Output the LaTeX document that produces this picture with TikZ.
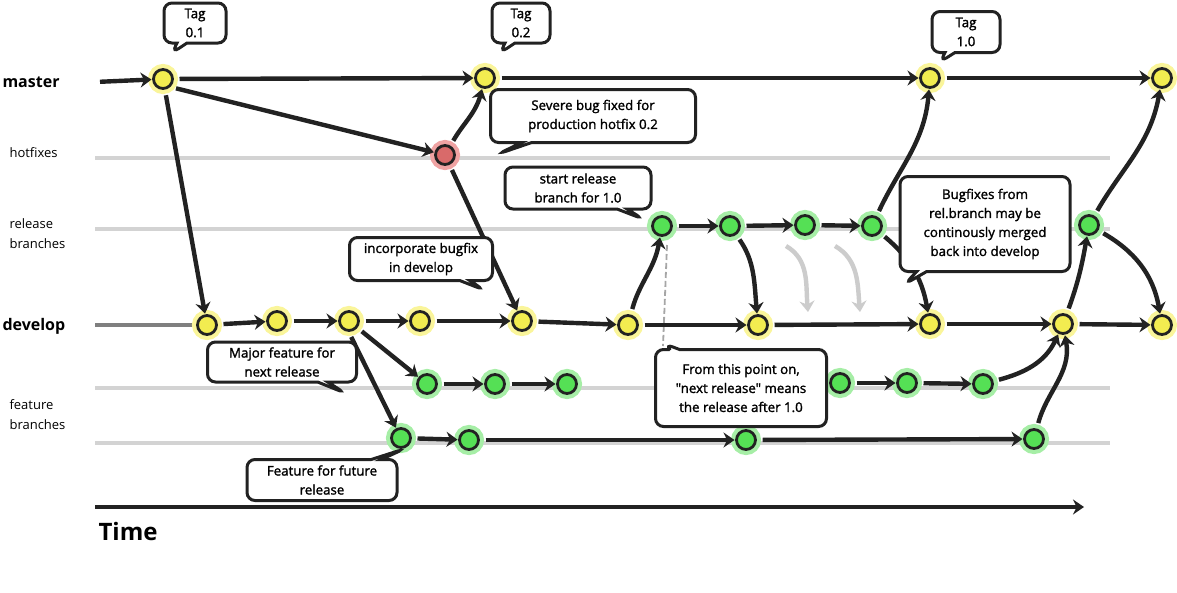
\documentclass[tikz,border=0pt]{standalone}
\usepackage{fontspec}
\setmainfont{Open Sans}
\newfontfamily\handfont{Open Sans}[FakeBold=1.6]
\usetikzlibrary{arrows.meta,shapes.callouts}
\definecolor{ink}{HTML}{222222}
\definecolor{yfill}{HTML}{F2EC50}
\definecolor{yhalo}{HTML}{FAF59A}
\definecolor{gfill}{HTML}{55E055}
\definecolor{ghalo}{HTML}{A6EEA6}
\definecolor{rfill}{HTML}{D96A6A}
\definecolor{rhalo}{HTML}{EFA3A3}
\definecolor{lane}{HTML}{D3D3D3}
\definecolor{devgray}{HTML}{7F7F7F}
\definecolor{softarrow}{HTML}{CCCCCC}
\tikzset{
  commit/.style={circle, minimum size=19pt, inner sep=0pt, outer sep=2pt, draw=ink, line width=2.8pt},
  ycommit/.style={commit, fill=yfill, preaction={draw=yhalo, line width=11pt}},
  gcommit/.style={commit, fill=gfill, preaction={draw=ghalo, line width=11pt}},
  rcommit/.style={commit, fill=rfill, preaction={draw=rhalo, line width=11pt}},
  arr/.style={draw=ink, line width=4.4pt, -{Stealth[length=11pt,width=15pt]}, shorten <=5pt},
  softarr/.style={draw=softarrow, line width=4.4pt, -{Stealth[length=11pt,width=15pt]}},
  laneline/.style={draw=lane, line width=4pt},
  bubble/.style={rectangle callout, draw=ink, line width=3pt, fill=white, rounded corners=8pt,
     callout pointer width=10pt, align=center, inner sep=2pt, font=\handfont\fontsize{13.3}{19}\selectfont},
  lanelabel/.style={anchor=west, font=\fontsize{13}{20}\selectfont, align=left},
  bigname/.style={anchor=west, font=\fontsize{16}{18}\selectfont\bfseries},
}
\begin{document}
\begin{tikzpicture}[x=1pt,y=-1pt]
\useasboundingbox (0,0) rectangle (1177,592);
\fill[white] (0,0) rectangle (1177,592);

% lane labels
\node[bigname] (lmaster) at (-1,82) {master};
\node[lanelabel] (lhot) at (6,153) {hotfixes};
\node[lanelabel] (lrel) at (6,234) {release\\branches};
\node[bigname] (ldev) at (-1,326) {develop};
\node[lanelabel] (lfeat) at (6,415) {feature\\branches};
\node[anchor=west, font=\fontsize{24}{26}\selectfont\bfseries] (ltime) at (95,531) {Time};

% lane lines
\coordinate (h0) at (95,158); \coordinate (h1) at (1110,158);
\coordinate (r0) at (95,229); \coordinate (r1) at (1110,229);
\coordinate (fa0) at (95,388); \coordinate (fa1) at (1110,388);
\coordinate (fb0) at (95,443); \coordinate (fb1) at (1110,443);
\coordinate (d0) at (95,325); \coordinate (d1) at (197,325);
\draw[laneline] (h0) -- (h1);
\draw[laneline] (r0) -- (r1);
\draw[laneline] (fa0) -- (fa1);
\draw[laneline] (fb0) -- (fb1);
\draw[draw=devgray, line width=4pt] (d0) -- (d1);

% time axis
\coordinate (t0) at (95,507); \coordinate (t1) at (1084,507);
\draw[draw=ink, line width=4.4pt, -{Stealth[length=11pt,width=15pt]}] (t0) -- (t1);

% dashed marker
\coordinate (ds) at (667,245); \coordinate (de) at (663,346);
\draw[draw=gray!70, line width=1.8pt, dash pattern=on 6pt off 3pt] (ds) -- (de);

% commits
\node[ycommit] (M1) at (163,79) {};
\node[ycommit] (M2) at (485,78) {};
\node[ycommit] (M3) at (930,78) {};
\node[ycommit] (M4) at (1162,78) {};
\node[rcommit] (H) at (445,155) {};
\node[gcommit] (R1) at (662,226) {};
\node[gcommit] (R2) at (730,226) {};
\node[gcommit] (R3) at (805,225) {};
\node[gcommit] (R4) at (872,226) {};
\node[gcommit] (R5) at (1089,225) {};
\node[ycommit] (D1) at (207,325) {};
\node[ycommit] (D2) at (277,321) {};
\node[ycommit] (D3) at (349,321) {};
\node[ycommit] (D4) at (420,321) {};
\node[ycommit] (D5) at (522,321) {};
\node[ycommit] (D6) at (628,325) {};
\node[ycommit] (D7) at (758,325) {};
\node[ycommit] (D8) at (930,324) {};
\node[ycommit] (D9) at (1063,324) {};
\node[ycommit] (D10) at (1162,325) {};
\node[gcommit] (F1a) at (427,384) {};
\node[gcommit] (F1b) at (495,384) {};
\node[gcommit] (F1c) at (567,384) {};
\node[gcommit] (F1d) at (840,383) {};
\node[gcommit] (F1e) at (907,383) {};
\node[gcommit] (F1f) at (983,384) {};
\node[gcommit] (F2a) at (401,438) {};
\node[gcommit] (F2b) at (469,440) {};
\node[gcommit] (F2c) at (746,440) {};
\node[gcommit] (F2d) at (1034,439) {};

% master
\coordinate (ms) at (95,82);
\draw[arr] (ms) -- (M1);
\draw[arr] (M1) -- (M2);
\draw[arr] (M2) -- (M3);
\draw[arr] (M3) -- (M4);
% hotfix
\draw[arr] (M1.south east) -- (H);
\draw[arr] (H) to[out=60,in=-105] (M2);
\draw[arr] (H) -- (D5);
% develop
\draw[arr] (M1) -- (D1);
\draw[arr] (D1) -- (D2);
\draw[arr] (D2) -- (D3);
\draw[arr] (D3) -- (D4);
\draw[arr] (D4) -- (D5);
\draw[arr] (D5) -- (D6);
\draw[arr] (D6) -- (D7);
\draw[arr] (D7) -- (D8);
\draw[arr] (D8) -- (D9);
\draw[arr] (D9) -- (D10);
% features
\draw[arr] (D3) -- (F1a);
\draw[arr] (D3.south) -- (F2a);
\draw[arr] (F1a) -- (F1b);
\draw[arr] (F1b) -- (F1c);
\draw[arr] (F2a) -- (F2b);
\draw[arr] (F2b) -- (F2c);
\draw[arr] (F2c) -- (F2d);
\draw[arr] (F1d) -- (F1e);
\draw[arr] (F1e) -- (F1f);
\draw[arr] (F1f) to[out=15,in=-115] (D9);
\draw[arr] (F2d) to[out=75,in=-80] (D9);
% release
\draw[arr] (D6) to[out=75,in=-100] (R1);
\draw[arr] (R1) -- (R2);
\draw[arr] (R2) -- (R3);
\draw[arr] (R3) -- (R4);
\draw[arr] (R2) to[out=-55,in=95] (D7);
\coordinate (ga0) at (786,246); \coordinate (ga1) at (808,312);
\coordinate (gb0) at (835,246); \coordinate (gb1) at (860,312);
\draw[softarr] (ga0) to[out=-30,in=95] (ga1);
\draw[softarr] (gb0) to[out=-30,in=95] (gb1);
\draw[arr] (R4) to[out=-40,in=100] (D8);
\draw[arr] (R4) to[out=65,in=-95] (M3);
\draw[arr] (D9) to[out=70,in=-100] (R5);
\draw[arr] (R5) to[out=60,in=-100] (M4);
\draw[arr] (R5) to[out=-30,in=100] (D10);

% callouts
\node[bubble, minimum width=62pt, minimum height=40pt, callout absolute pointer={(172,53)}] (c1) at (195,23) {Tag\\0.1};
\node[bubble, minimum width=58pt, minimum height=40pt, callout absolute pointer={(500,53)}] (c2) at (521,23) {Tag\\0.2};
\node[bubble, minimum width=68pt, minimum height=41pt, callout absolute pointer={(940,62)}] (c3) at (966,32) {Tag\\1.0};
\node[bubble, minimum width=205pt, minimum height=53pt, callout absolute pointer={(498,154)}] (c4) at (593,116) {Severe bug fixed for\\production hotfix 0.2};
\node[bubble, minimum width=146pt, minimum height=42pt, callout absolute pointer={(643,219)}] (c5) at (578,188) {start release\\branch for 1.0};
\node[bubble, minimum width=143pt, minimum height=43pt, callout absolute pointer={(484,290)}] (c6) at (421,259) {incorporate bugfix\\in develop};
\node[bubble, minimum width=149pt, minimum height=40pt, callout absolute pointer={(345,393)}] (c7) at (282,362) {Major feature for\\next release};
\node[bubble, minimum width=150pt, minimum height=41pt, callout absolute pointer={(404,449)}] (c8) at (322,480) {Feature for future\\release};
\node[bubble, minimum width=171pt, minimum height=77pt, callout absolute pointer={(665,344)}] (c9) at (741,388) {From this point on,\\"next release" means\\the release after 1.0};
\node[bubble, minimum width=170pt, minimum height=95pt, callout absolute pointer={(905,284)}] (c10) at (985,224) {Bugfixes from\\rel.branch may be\\continously merged\\back into develop};
\end{tikzpicture}
\end{document}
